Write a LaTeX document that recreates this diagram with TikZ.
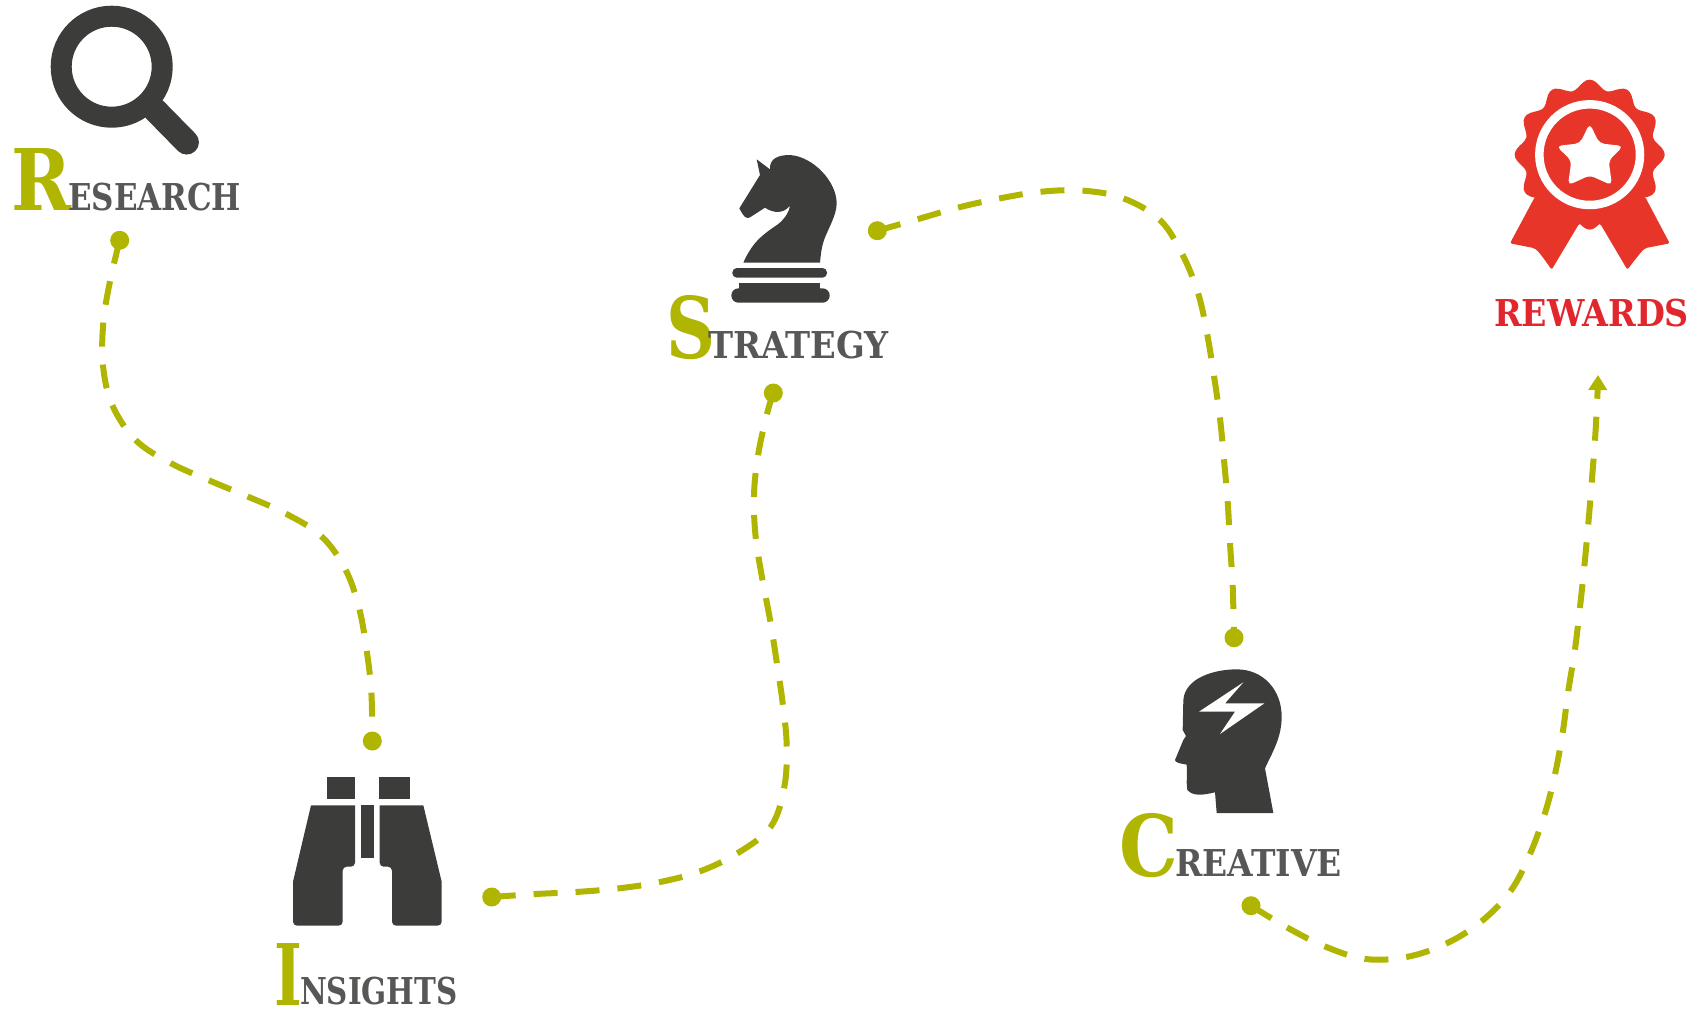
\documentclass[tikz,border=0pt]{standalone}
\usepackage{fontspec}
\setmainfont{DejaVu Serif}
\usetikzlibrary{arrows.meta}
\definecolor{trailgreen}{RGB}{175,181,0}
\definecolor{icondark}{RGB}{60,60,59}
\definecolor{wordgrey}{RGB}{87,87,86}
\definecolor{rewardred}{RGB}{232,53,42}
\definecolor{wordred}{RGB}{225,39,45}
\tikzset{
  bigcap/.style={anchor=base west, inner sep=0pt, text=trailgreen, font=\fontsize{85}{85}\selectfont\bfseries},
  smallcap/.style={anchor=base west, inner sep=0pt, text=wordgrey, font=\fontsize{37}{37}\selectfont\bfseries},
  trail/.style={draw=trailgreen, line width=6pt, dash pattern=on 24pt off 18pt},
  trailpoint/.style={circle, fill=trailgreen, inner sep=0pt, minimum size=19pt}
}
\begin{document}
\begin{tikzpicture}[x=1pt,y=-1pt]
    \useasboundingbox (0,0) rectangle (1707,1010);

    % magnifier
    \draw[icondark, line width=21pt] (111.7,66.7) circle[radius=50.5];
    \draw[icondark, line width=24.5pt, line cap=round] (155,110) -- (186.7,142.3);

    % knight
    \begin{scope}[shift={(650,140)},scale=1/3]
    \fill[icondark] (320,58) -- (360,88) .. controls (358,55) and (385,45) .. (420,45)
        .. controls (490,50) and (560,125) .. (560,190) .. controls (560,225) and (535,265) .. (522,300)
        .. controls (515,320) and (512,345) .. (510,368)
        -- (280,368) .. controls (310,300) and (345,280) .. (385,252) .. controls (405,235) and (418,215) .. (420,197)
        .. controls (400,222) and (370,220) .. (345,203) -- (300,232) .. controls (290,238) and (282,232) .. (268,205)
        -- (330,105) -- cycle;
    \fill[icondark, rounded corners=4.5pt] (247,384) rectangle (531,413);
    \fill[icondark] (267,428) rectangle (510,450);
    \fill[icondark, rounded corners=7pt] (244,445) rectangle (539,488);
    \end{scope}

    % badge
    \begin{scope}[shift={(1480,60)},scale=1/3]
    \fill[rewardred, rounded corners=2pt] (165,410) -- (90,550) -- (150,562) .. controls (170,565) and (180,580) .. (215,629)
        -- (298,490) -- (360,490) -- (442,629) .. controls (480,580) and (490,565) .. (508,562) -- (569,550) -- (495,410) -- cycle;
    \fill[rewardred] (298,488) .. controls (315,510) and (343,510) .. (360,488) -- cycle;
    \fill[rewardred] plot[domain=0:360,samples=145,smooth] ({329+cos(\x)*(211+14*cos(12*\x))},{284+sin(\x)*(211+14*cos(12*\x))}) -- cycle;
    \draw[white, line width=8.5pt] (329,284) circle[radius=151];
    \fill[white, rounded corners=5pt] (329,190) -- (358,250) -- (430,258) -- (386,302) -- (396,376) -- (329,346)
        -- (264,376) -- (274,302) -- (229,258) -- (300,250) -- cycle;
    \end{scope}

    % binoculars
    \begin{scope}[shift={(260,730)},scale=1/3]
    \fill[icondark] (201,141) rectangle (285,207);
    \fill[icondark] (357,141) rectangle (450,207);
    \fill[icondark] (303,225) rectangle (342,384);
    \fill[icondark] (153,226) -- (285,226) [rounded corners=4pt] -- (285,410) -- (248,410) -- (248,587) -- (99,587) [sharp corners] -- (99,455) -- cycle;
    \fill[icondark] (490,226) -- (359,226) [rounded corners=4pt] -- (359,410) -- (396,410) -- (396,587) -- (545,587) [sharp corners] -- (545,455) -- cycle;
    \end{scope}

    % head
    \begin{scope}[shift={(1100,620)},scale=1/3]
    \fill[icondark] (248,330) -- (250,240) .. controls (255,175) and (340,148) .. (410,148)
        .. controls (490,148) and (545,210) .. (545,290) .. controls (545,355) and (515,400) .. (495,445)
        -- (520,579) -- (350,579) -- (345,517) .. controls (310,525) and (280,530) .. (262,510)
        .. controls (258,490) and (262,470) .. (260,434) .. controls (240,430) and (225,428) .. (225,420)
        -- (250,360) -- (258,348) -- cycle;
    \fill[white] (430,187) -- (297,275) -- (405,275) -- (360,342) -- (493,250) -- (375,250) -- cycle;
    \end{scope}

    % labels
    \node[bigcap, xscale=.85] (capR) at (11,210) {R};
    \node[smallcap, xscale=.836] (wordR) at (68,210) {ESEARCH};
    \node[bigcap, xscale=.7] (capI) at (274,1005) {I};
    \node[smallcap, xscale=.793] (wordI) at (300,1004) {NSIGHTS};
    \node[bigcap, xscale=.8] (capS) at (666,358) {S};
    \node[smallcap, xscale=.91] (wordS) at (708,358) {TRATEGY};
    \node[bigcap, xscale=.87] (capC) at (1119,876) {C};
    \node[smallcap, xscale=.89] (wordC) at (1175,876) {REATIVE};
    \node[smallcap, xscale=.9, text=wordred] (wordW) at (1494,326) {REWARDS};

    % end points of the trails
    \node[trailpoint] (startR) at (119.7,240.3) {};
    \node[trailpoint] (endI) at (372.3,741) {};
    \node[trailpoint] (startI) at (491.7,897) {};
    \node[trailpoint] (endS) at (773.3,393) {};
    \node[trailpoint] (startS) at (877.3,230.7) {};
    \node[trailpoint] (endC) at (1234,637.7) {};
    \node[trailpoint] (startC) at (1251,905.7) {};
    \coordinate (endW) at (1598,375);

    % trails
    \begin{scope}[shift={(80,219.33)},xscale=1/3,yscale=1.033/3]
    \draw[trail] plot[smooth,tension=.6] coordinates {(startR) (90,180) (70,300) (69,425) (97,540) (168,642) (272,708) (387,758) (503,805) (618,855) (724,920) (797,1018) (838,1132) (860,1252) (874,1372) (endI)};
    \end{scope}
    \begin{scope}[shift={(470,368.8)},xscale=1/3,yscale=1.052/3]
    \draw[trail] plot[smooth,tension=.6] coordinates {(startI) (192,1498) (318,1492) (443,1482) (568,1464) (690,1433) (805,1380) (903,1305) (943,1192) (950,1072) (938,953) (920,835) (900,715) (877,600) (857,480) (852,360) (865,242) (892,125) (endS)};
    \end{scope}
    \begin{scope}[shift={(860,170)},scale=1/3]
    \draw[trail] plot[smooth,tension=.6] coordinates {(startS) (175,147) (297,112) (420,85) (545,65) (670,62) (790,85) (900,150) (968,255) (1015,372) (1042,495) (1062,618) (1080,745) (1092,870) (1103,995) (1110,1120) (1118,1247) (endC)};
    \end{scope}
    \begin{scope}[shift={(1240,369.83)},xscale=1/3,yscale=1.1665/3]
    \draw[trail, -{Triangle[length=15pt,width=18pt]}] plot[smooth,tension=.6] coordinates {(startC) (143,1435) (255,1483) (375,1515) (500,1510) (620,1475) (725,1418) (812,1340) (870,1245) (915,1140) (945,1040) (968,933) (985,825) (1005,718) (1020,610) (1033,505) (1045,395) (1055,290) (1065,180) (1072,70) (endW)};
    \end{scope}
\end{tikzpicture}
\end{document}
